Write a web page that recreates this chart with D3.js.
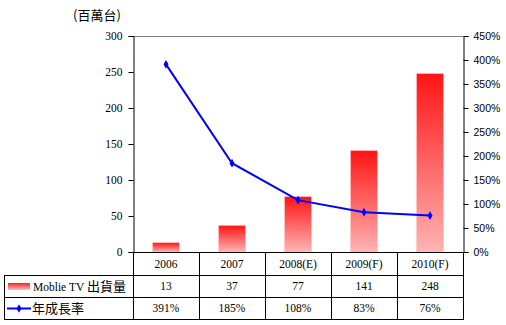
<!DOCTYPE html>
<html><head><meta charset="utf-8">
<script src="https://cdn.jsdelivr.net/npm/d3@7"></script>
<style>body{margin:0;background:#fff}svg{display:block}</style>
</head><body>
<svg id="c" width="506" height="325"></svg>
<script>
const categories = ["2006","2007","2008(E)","2009(F)","2010(F)"];
const shipments = [13,37,77,141,248];
const growth = [391,185,108,83,76];
const leftTicks = [0,50,100,150,200,250,300];
const rightTicks = [0,50,100,150,200,250,300,350,400,450];
const seriesNames = ["Moblie TV 出貨量","年成長率"];
const unitLabel = "(百萬台)";

const svg = d3.select("#c");
const L = 133, R = 463, T = 36, B = 252;
const x = d3.scaleBand().domain(categories).range([L,R]).padding(0);
const y = d3.scaleLinear().domain([0,300]).range([B,T]);
const y2 = d3.scaleLinear().domain([0,450]).range([B,T]);
const serif = "'Liberation Serif','Times New Roman',serif";
const cjk = "'Noto Sans CJK TC','Noto Sans CJK SC',sans-serif";

const defs = svg.append("defs");
const g = defs.append("linearGradient").attr("id","bg").attr("x1",0).attr("y1",0).attr("x2",0).attr("y2",1);
g.append("stop").attr("offset","0%").attr("stop-color","#ff1414");
g.append("stop").attr("offset","100%").attr("stop-color","#ffb4b4");
const gl = defs.append("linearGradient").attr("id","bgl").attr("x1",0).attr("y1",0).attr("x2",0).attr("y2",1);
gl.append("stop").attr("offset","0%").attr("stop-color","#ff2020");
gl.append("stop").attr("offset","100%").attr("stop-color","#ffc0c0");

// top border
svg.append("line").attr("x1",L).attr("x2",R).attr("y1",T+0.5).attr("y2",T+0.5).attr("stroke","#808080");

// bars
const bw = 27;
svg.selectAll("rect.bar").data(shipments).join("rect").attr("class","bar")
  .attr("x",(d,i)=>x(categories[i])+x.bandwidth()/2-bw/2)
  .attr("y",d=>y(d)).attr("width",bw).attr("height",d=>B-y(d))
  .attr("fill","url(#bg)").attr("stroke","#ffc8c8").attr("stroke-width",0.6);

// left axis
const ax = svg.append("g").attr("transform",`translate(${L+0.5},0)`)
  .call(d3.axisLeft(y).tickValues(leftTicks).tickSize(5).tickPadding(6));
ax.select(".domain").attr("stroke","#000");
ax.selectAll("line").attr("stroke","#000");
ax.selectAll("text").attr("font-family",serif).attr("font-size",11.5).attr("fill","#000");

// right axis
const ar = svg.append("g").attr("transform",`translate(${R+0.5},0)`)
  .call(d3.axisRight(y2).tickValues(rightTicks).tickFormat(d=>d+"%").tickSize(5).tickPadding(5));
ar.select(".domain").attr("stroke","#000");
ar.selectAll("line").attr("stroke","#000");
ar.selectAll("text").attr("font-family","'Liberation Sans',Arial,sans-serif").attr("font-size",10.5).attr("fill","#000");

// unit label
svg.append("text").attr("x",97).attr("y",20).attr("text-anchor","middle")
  .attr("font-family",cjk).attr("font-size",13).text(unitLabel);

// line
const cx = c => x(c)+x.bandwidth()/2;
svg.append("path").datum(growth)
  .attr("d",d3.line().x((d,i)=>cx(categories[i])).y(d=>y2(d)))
  .attr("fill","none").attr("stroke","#0000ff").attr("stroke-width",2);
const diamond = d3.symbol().type(d3.symbolDiamond).size(22);
svg.selectAll("path.mk").data(growth).join("path").attr("class","mk")
  .attr("transform",(d,i)=>`translate(${cx(categories[i])},${y2(d)})`)
  .attr("d",diamond).attr("fill","#0000ff");

// table
const r0 = B, r1 = 275, r2 = 297, r3 = 319, TL = 4;
const tl = svg.append("g").attr("stroke","#000").attr("stroke-width",1);
tl.append("line").attr("x1",L).attr("x2",R+0.5).attr("y1",r0+0.5).attr("y2",r0+0.5);
[r1,r2,r3].forEach(r=>tl.append("line").attr("x1",TL).attr("x2",R+0.5).attr("y1",r+0.5).attr("y2",r+0.5));
tl.append("line").attr("x1",TL+0.5).attr("x2",TL+0.5).attr("y1",r1).attr("y2",r3+1);
categories.forEach(c=>tl.append("line").attr("x1",x(c)+0.5).attr("x2",x(c)+0.5).attr("y1",r0).attr("y2",r3+1));
tl.append("line").attr("x1",R+0.5).attr("x2",R+0.5).attr("y1",r0).attr("y2",r3+1);

const tt = svg.append("g").attr("font-family",serif).attr("font-size",11.5).attr("text-anchor","middle");
categories.forEach((c,i)=>{
  tt.append("text").attr("x",cx(c)).attr("y",(r0+r1)/2+4).text(c);
  tt.append("text").attr("x",cx(c)).attr("y",(r1+r2)/2+4).text(shipments[i]);
  tt.append("text").attr("x",cx(c)).attr("y",(r2+r3)/2+4).text(growth[i]+"%");
});

// legend cells
svg.append("rect").attr("x",8).attr("y",(r1+r2)/2-3).attr("width",22).attr("height",7).attr("fill","url(#bgl)");
const parts = seriesNames[0].split(" ");
const lt = svg.append("text").attr("x",33).attr("y",(r1+r2)/2+4.5).attr("font-size",11.5);
lt.append("tspan").attr("font-family",serif).text(parts[0]+" "+parts[1]+" ");
lt.append("tspan").attr("font-family",cjk).attr("font-size",13).text(parts[2]);
svg.append("line").attr("x1",7).attr("x2",31).attr("y1",(r2+r3)/2+0.5).attr("y2",(r2+r3)/2+0.5).attr("stroke","#0000ff").attr("stroke-width",2);
svg.append("path").attr("transform",`translate(19,${(r2+r3)/2+0.5})`).attr("d",diamond).attr("fill","#0000ff");
svg.append("text").attr("x",32).attr("y",(r2+r3)/2+5).attr("font-family",cjk).attr("font-size",13).text(seriesNames[1]);
</script>
</body></html>
